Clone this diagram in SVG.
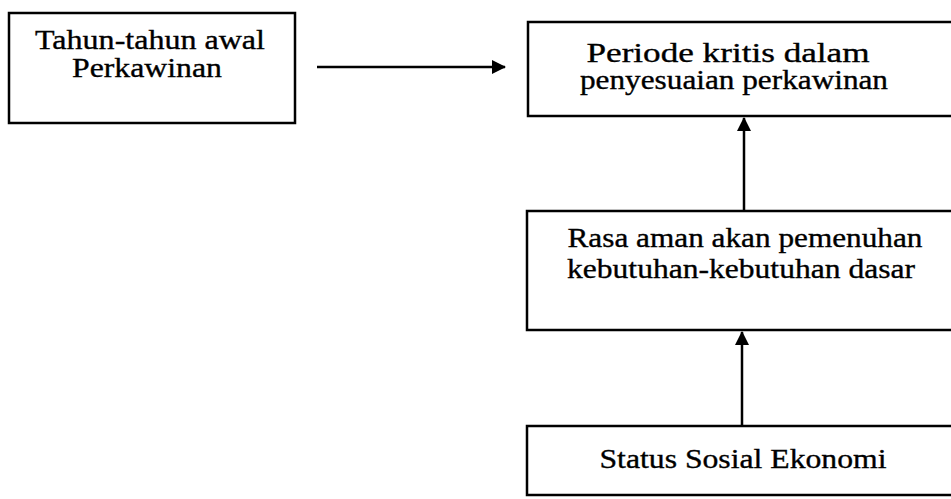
<svg xmlns="http://www.w3.org/2000/svg" width="951" height="499" viewBox="0 0 951 499">
<style>
.box{fill:#fff;stroke:#000;stroke-width:2.5}
.t{font-family:'Liberation Serif','Times New Roman',serif;font-size:28px;fill:#000;text-anchor:middle;stroke:#000;stroke-width:0.35}
.s{font-size:27px}
.c{stroke:#000;stroke-width:2.5;fill:none}
</style>
<defs>
<marker id="ah" viewBox="0 0 14 14" refX="13" refY="7" markerWidth="14" markerHeight="14" markerUnits="userSpaceOnUse" orient="auto">
<path d="M0,0 L14,7 L0,14 Z" fill="#000"/>
</marker>
</defs>
<rect width="951" height="499" fill="#fff"/>
<g id="node-tahun">
<rect class="box" x="9" y="13" width="286" height="110"/>
<text class="t" x="150" y="49" textLength="230" lengthAdjust="spacingAndGlyphs">Tahun-tahun awal</text>
<text class="t" x="147" y="77" textLength="150" lengthAdjust="spacingAndGlyphs">Perkawinan</text>
</g>
<g id="node-periode">
<rect class="box" x="528" y="22" width="440" height="94"/>
<text class="t s" x="728" y="62" textLength="283" lengthAdjust="spacingAndGlyphs">Periode kritis dalam</text>
<text class="t s" x="734" y="89" textLength="308" lengthAdjust="spacingAndGlyphs">penyesuaian perkawinan</text>
</g>
<g id="node-rasa">
<rect class="box" x="527" y="211" width="440" height="119"/>
<text class="t" x="745" y="247" textLength="355" lengthAdjust="spacingAndGlyphs">Rasa aman akan pemenuhan</text>
<text class="t" x="741" y="278" textLength="348" lengthAdjust="spacingAndGlyphs">kebutuhan-kebutuhan dasar</text>
</g>
<g id="node-status">
<rect class="box" x="527" y="426" width="440" height="69"/>
<text class="t" x="743" y="468" textLength="287" lengthAdjust="spacingAndGlyphs">Status Sosial Ekonomi</text>
</g>
<g id="connectors">
<line class="c" x1="317" y1="67" x2="505" y2="67" marker-end="url(#ah)"/>
<line class="c" x1="744" y1="211" x2="744" y2="118" marker-end="url(#ah)"/>
<line class="c" x1="742" y1="426" x2="742" y2="332" marker-end="url(#ah)"/>
</g>
</svg>
